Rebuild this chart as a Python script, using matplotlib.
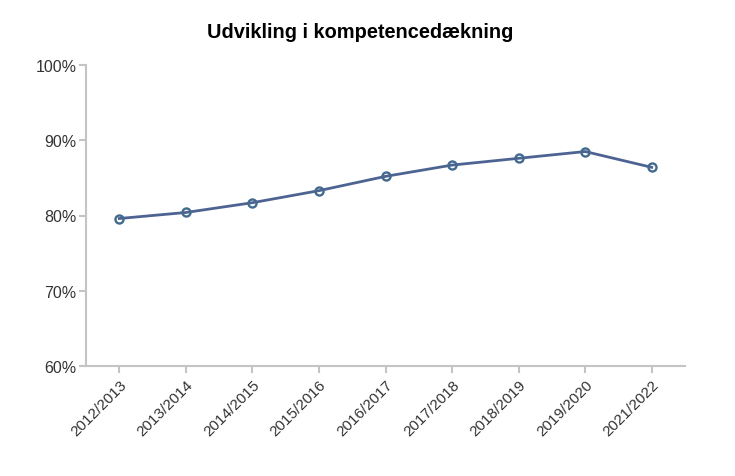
import matplotlib
matplotlib.use("Agg")
import matplotlib.pyplot as plt
from matplotlib.ticker import FuncFormatter

plt.rcParams['font.family'] = ['Liberation Sans', 'DejaVu Sans']

categories = ["2012/2013", "2013/2014", "2014/2015", "2015/2016", "2016/2017",
              "2017/2018", "2018/2019", "2019/2020", "2021/2022"]
values = [79.6, 80.4, 81.7, 83.3, 85.2, 86.7, 87.6, 88.5, 86.4]
y_ticks = [60, 70, 80, 90, 100]
title = "Udvikling i kompetencedækning"

W, H = 735, 477
fig = plt.figure(figsize=(W / 100, H / 100), dpi=100)
left, right, top, bottom = 86, 685, 66, 367
ax = fig.add_axes([left / W, (H - bottom) / H, (right - left) / W, (bottom - top) / H])

x = list(range(len(categories)))
ax.plot(x, values, color="#4d6493", linewidth=2, zorder=2)
ax.plot(x, values, linestyle="none", marker="o", markersize=5.8,
        markerfacecolor="none", markeredgecolor="#426a8e", markeredgewidth=1.7, zorder=3)

ax.set_xlim(-0.5, len(categories) - 0.5)
ax.set_ylim(60, 100)
ax.set_yticks(y_ticks)
ax.yaxis.set_major_formatter(FuncFormatter(lambda v, p: f"{v:.0f}%"))
ax.set_xticks(x)
ax.set_xticklabels(categories, rotation=45, ha="right", rotation_mode="anchor")

for s in ["top", "right"]:
    ax.spines[s].set_visible(False)
for s in ["left", "bottom"]:
    ax.spines[s].set_color("#c4c4c4")
    ax.spines[s].set_linewidth(1.5)
ax.tick_params(axis="both", colors="#c4c4c4", length=5, width=1.5, labelcolor="#333333")
ax.tick_params(axis="y", labelsize=11.5, pad=2)
ax.tick_params(axis="x", labelsize=11, pad=3)

fig.text(360 / W, 1 - 32 / H, title, ha="center", va="center",
         fontsize=14.4, fontweight="bold", color="#000000")

fig.savefig("out.png", dpi=100)
